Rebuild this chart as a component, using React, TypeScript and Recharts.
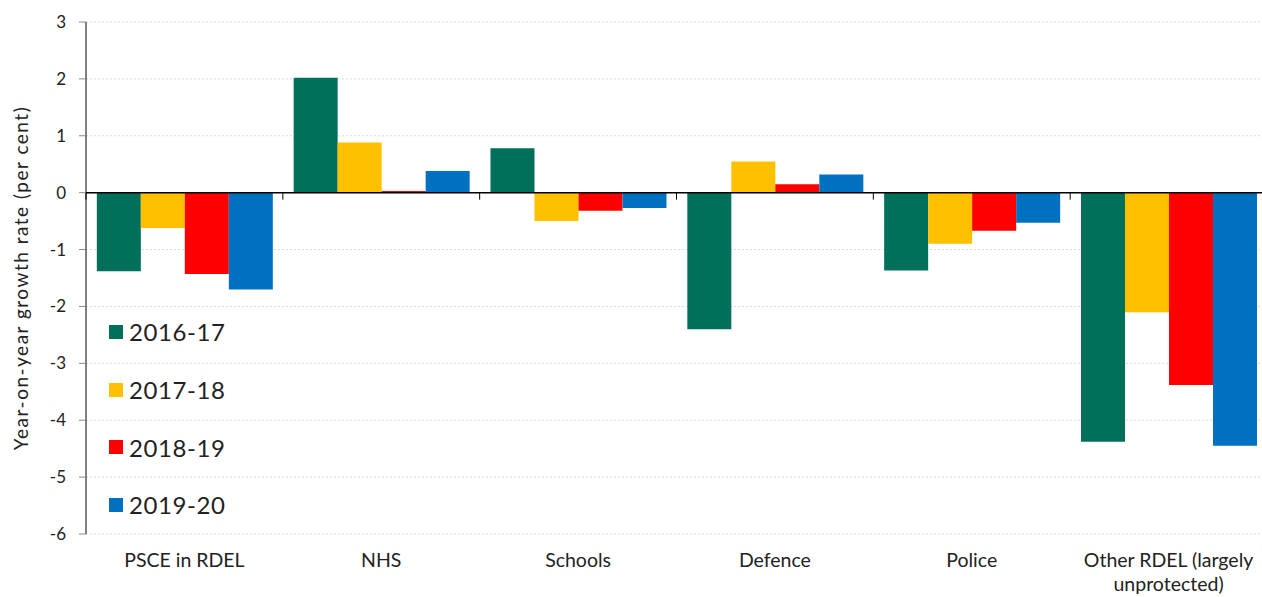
import React from 'react';
import { BarChart, Bar, XAxis, YAxis, CartesianGrid, ReferenceLine } from 'recharts';

const categories = ['PSCE in RDEL', 'NHS', 'Schools', 'Defence', 'Police', 'Other RDEL (largely unprotected)'];
const years = ['2016-17', '2017-18', '2018-19', '2019-20'];
const growth1617 = [-1.38, 2.02, 0.78, -2.4, -1.37, -4.38];
const growth1718 = [-0.62, 0.88, -0.5, 0.55, -0.9, -2.1];
const growth1819 = [-1.43, 0.03, -0.32, 0.15, -0.67, -3.38];
const growth1920 = [-1.7, 0.38, -0.27, 0.32, -0.53, -4.45];
const yTicks = [3, 2, 1, 0, -1, -2, -3, -4, -5, -6];
const colours = ['#00705B', '#FFC000', '#FF0000', '#0070C0'];

const series = [growth1617, growth1718, growth1819, growth1920];
const data = categories.map((name, i) => {
  const row: Record<string, string | number> = { name };
  years.forEach((y, s) => { row[y] = series[s][i]; });
  return row;
});

// layout
const W = 1280;
const H = 597;
const M = { top: 22, right: 13, left: 0, bottom: 0 };
const Y_W = 86;
const X_H = 63;
const BAND = (W - M.left - M.right - Y_W) / categories.length;
const PLOT_H = H - M.top - M.bottom - X_H;
const ZERO_Y = M.top + PLOT_H * (3 / 9);

const FONT = 'Futura, "Century Gothic", Lato, sans-serif';

const wrap = (s: string, max: number) => {
  const out: string[] = [];
  let cur = '';
  s.split(' ').forEach(w => {
    if (cur && (cur + ' ' + w).length > max) { out.push(cur); cur = w; }
    else cur = cur ? cur + ' ' + w : w;
  });
  if (cur) out.push(cur);
  return out;
};

const CategoryTick = (props: any) => {
  const { x, y, payload } = props;
  const lines = wrap(payload.value, 20);
  return (
    <g>
      <line x1={x - BAND / 2} x2={x - BAND / 2} y1={ZERO_Y} y2={ZERO_Y + 7} stroke="#000" />
      <text x={x} y={y} textAnchor="middle" fontSize={19.5} fill="#222" fontFamily={FONT}>
        {lines.map((l, i) => (
          <tspan key={i} x={x} dy={i === 0 ? 27 : 24}>{l}</tspan>
        ))}
      </text>
    </g>
  );
};

const YLabel = () => {
  const cy = M.top + PLOT_H / 2;
  return (
    <text x={0} y={0} transform={`translate(28, ${cy}) rotate(-90)`} textAnchor="middle"
      fontSize={19} letterSpacing={1.5} fill="#222" fontFamily={FONT}>
      Year-on-year growth rate (per cent)
    </text>
  );
};

export default function App() {
  return (
    <div style={{ position: 'absolute', left: 0, top: 0, width: 1262, height: 597, overflow: 'hidden', background: '#fff' }}>
      <BarChart width={W} height={H} data={data} margin={M} barGap={0} barCategoryGap="5.5%">
        <CartesianGrid vertical={false} stroke="#d9d9d9" strokeDasharray="2 2" />
        <XAxis dataKey="name" height={X_H} axisLine={false} tickLine={false} tickMargin={0}
          interval={0} tick={<CategoryTick />} />
        <YAxis width={Y_W} domain={[-6, 3]} ticks={yTicks} interval={0}
          axisLine={{ stroke: '#000' }} tickLine={{ stroke: '#888' }} tickSize={7} tickMargin={13}
          tick={{ fontSize: 17, fill: '#222', fontFamily: FONT }}
          label={<YLabel />} />
        {years.map((y, i) => (
          <Bar key={y} dataKey={y} fill={colours[i]} isAnimationActive={false} />
        ))}
        <ReferenceLine y={0} stroke="#000" strokeWidth={1.5} />
      </BarChart>
      <div style={{ position: 'absolute', left: 109, top: 303, fontFamily: FONT, fontSize: 24, letterSpacing: 0.6, color: '#222' }}>
        {years.map((y, i) => (
          <div key={y} style={{ display: 'flex', alignItems: 'center', height: 57.7 }}>
            <span style={{ width: 14, height: 14, background: colours[i], marginRight: 6, display: 'inline-block' }} />
            {y}
          </div>
        ))}
      </div>
    </div>
  );
}
